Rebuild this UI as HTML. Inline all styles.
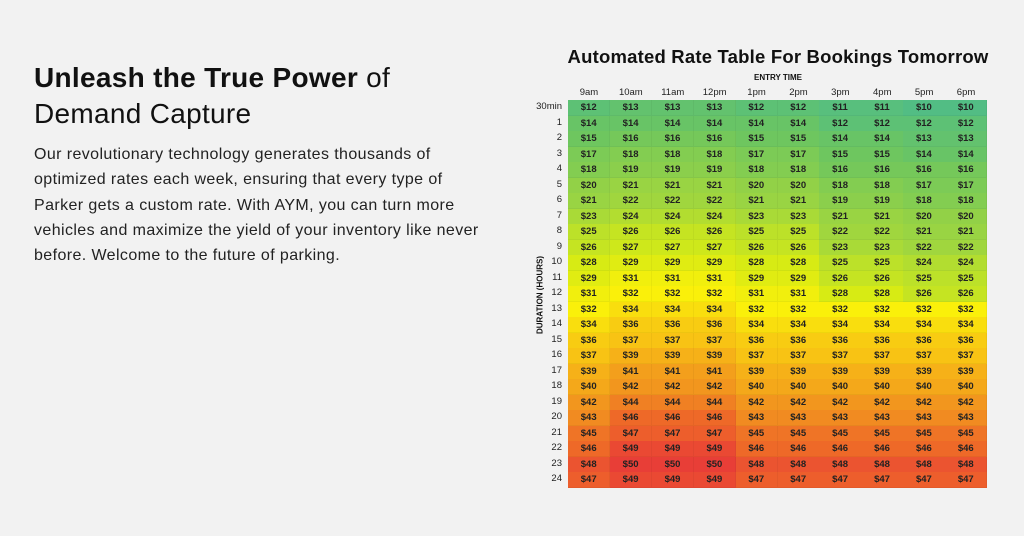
<!DOCTYPE html>
<html><head><meta charset="utf-8"><style>
html,body{margin:0;padding:0}
body{width:1024px;height:536px;background:#f2f2f2;position:relative;overflow:hidden;font-family:"Liberation Sans",sans-serif;color:#111}
.h{position:absolute;left:34px;font-size:28px;line-height:35px;white-space:nowrap;letter-spacing:0.3px}
.p{position:absolute;left:34px;top:142px;font-size:16px;line-height:25.3px;color:#222;white-space:nowrap;letter-spacing:0.4px}
#title{position:absolute;left:560px;width:436px;text-align:center;top:46px;font-size:18.5px;font-weight:bold;letter-spacing:0.2px}
#et{position:absolute;left:568px;width:420px;text-align:center;top:73px;font-size:8px;font-weight:bold}
#yt{position:absolute;left:540px;top:295px;font-size:8px;font-weight:bold;transform:translate(-50%,-50%) rotate(-90deg);white-space:nowrap}
.c{position:absolute;font-size:9.5px;text-align:center;color:#222}
.cell{position:absolute;font-size:9.5px;text-align:center;color:#222;font-weight:bold;box-sizing:border-box;border-right:1px solid rgba(0,0,0,0.04);border-bottom:1px solid rgba(0,0,0,0.04)}
.rl{position:absolute;font-size:9.5px;text-align:right;width:40px;left:522px;color:#222}
</style></head><body>
<div class="h" style="top:60px"><b>Unleash the True Power</b> of</div>
<div class="h" style="top:96px">Demand Capture</div>
<div class="p">Our revolutionary technology generates thousands of<br>optimized rates each week, ensuring that every type of<br>Parker gets a custom rate. With AYM, you can turn more<br>vehicles and maximize the yield of your inventory like never<br>before. Welcome to the future of parking.</div>
<div id="title">Automated Rate Table For Bookings Tomorrow</div>
<div id="et">ENTRY TIME</div>
<div id="yt">DURATION (HOURS)</div>
<div id="t"></div>
<script>
var cols=["9am","10am","11am","12pm","1pm","2pm","3pm","4pm","5pm","6pm"];
var rows=["30min","1","2","3","4","5","6","7","8","9","10","11","12","13","14","15","16","17","18","19","20","21","22","23","24"];
var d=[[12,13,13,13,12,12,11,11,10,10],[14,14,14,14,14,14,12,12,12,12],[15,16,16,16,15,15,14,14,13,13],[17,18,18,18,17,17,15,15,14,14],[18,19,19,19,18,18,16,16,16,16],[20,21,21,21,20,20,18,18,17,17],[21,22,22,22,21,21,19,19,18,18],[23,24,24,24,23,23,21,21,20,20],[25,26,26,26,25,25,22,22,21,21],[26,27,27,27,26,26,23,23,22,22],[28,29,29,29,28,28,25,25,24,24],[29,31,31,31,29,29,26,26,25,25],[31,32,32,32,31,31,28,28,26,26],[32,34,34,34,32,32,32,32,32,32],[34,36,36,36,34,34,34,34,34,34],[36,37,37,37,36,36,36,36,36,36],[37,39,39,39,37,37,37,37,37,37],[39,41,41,41,39,39,39,39,39,39],[40,42,42,42,40,40,40,40,40,40],[42,44,44,44,42,42,42,42,42,42],[43,46,46,46,43,43,43,43,43,43],[45,47,47,47,45,45,45,45,45,45],[46,49,49,49,46,46,46,46,46,46],[48,50,50,50,48,48,48,48,48,48],[47,49,49,49,47,47,47,47,47,47]];
var stops=[[10,[82,189,132]],[15,[110,198,95]],[22,[160,214,62]],[28,[215,235,20]],[32,[250,240,10]],[37,[248,195,20]],[42,[242,150,30]],[46,[238,105,40]],[50,[232,62,55]]];
function col(v){for(var i=0;i<stops.length-1;i++){var a=stops[i],b=stops[i+1];if(v<=b[0]){var t=(v-a[0])/(b[0]-a[0]);return "rgb("+a[1].map(function(x,k){return Math.round(x+(b[1][k]-x)*t)}).join(",")+")";}}return "rgb(232,62,55)";}
var x0=568,x1=987,y0=100,y1=488,cw=(x1-x0)/10,rh=(y1-y0)/25,h="";
cols.forEach(function(c,i){h+='<div class="c" style="left:'+(x0+i*cw)+'px;width:'+cw+'px;top:87px">'+c+'</div>';});
rows.forEach(function(r,j){h+='<div class="rl" style="top:'+(y0+j*rh+1)+'px">'+r+'</div>';
d[j].forEach(function(v,i){h+='<div class="cell" style="left:'+(x0+i*cw)+'px;top:'+(y0+j*rh)+'px;width:'+(cw+0.5)+'px;height:'+(rh+0.5)+'px;line-height:'+rh+'px;background:'+col(v)+'">$'+v+'</div>';});});
document.getElementById("t").innerHTML=h;
</script>
</body></html>
